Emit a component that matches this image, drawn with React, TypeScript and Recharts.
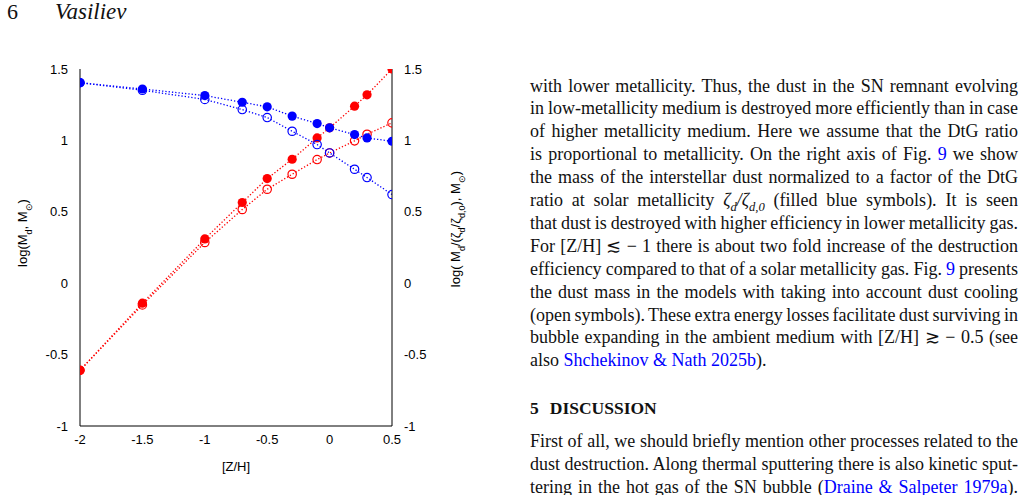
import { LineChart, Line, XAxis, YAxis } from 'recharts';

// [Z/H] values of the models
const zh = [-2, -1.5, -1, -0.7, -0.5, -0.3, -0.1, 0, 0.2, 0.3, 0.5];
// log M_d (left axis), red
const dustMass = [-0.61, -0.14, 0.31, 0.565, 0.733, 0.868, 1.017, 1.088, 1.24, 1.319, 1.5];
const dustMassCooling = [-0.61, -0.152, 0.285, 0.516, 0.658, 0.763, 0.866, 0.912, 0.997, 1.043, 1.123];
// log M_d/(zeta_d/zeta_d0) (right axis), blue
const dustNorm = [1.404, 1.36, 1.314, 1.267, 1.235, 1.17, 1.118, 1.088, 1.041, 1.017, 0.994];
const dustNormCooling = [1.404, 1.351, 1.287, 1.216, 1.16, 1.064, 0.971, 0.912, 0.798, 0.74, 0.621];

const xTicks = [-2, -1.5, -1, -0.5, 0, 0.5];
const yTicks = [-1, -0.5, 0, 0.5, 1, 1.5];

const data = zh.map((z, i) => ({
  z,
  mass: dustMass[i],
  massCool: dustMassCooling[i],
  norm: dustNorm[i],
  normCool: dustNormCooling[i],
}));

const RED = '#ff0000';
const BLUE = '#0000ff';
const SANS = '"Liberation Sans", Arial, sans-serif';
const SERIF = '"Liberation Serif", "Times New Roman", serif';
const LINK = '#0000ff';
const INK = '#111';

const tickStyle = { fill: '#000', fontSize: 13, fontFamily: SANS };

const filledDot = (color: string) => (p: any) => (
  <circle key={`f-${p.dataKey}-${p.index}`} cx={p.cx} cy={p.cy} r={4.6} fill={color} stroke="none" />
);
const openDot = (color: string) => (p: any) => (
  <circle key={`o-${p.dataKey}-${p.index}`} cx={p.cx} cy={p.cy} r={4.2} fill="none" stroke={color} strokeWidth={1.2} />
);

const subStyle = { fontSize: '0.7em', lineHeight: 0 };

const para1 = [
  <>with lower metallicity. Thus, the dust in the SN remnant evolving</>,
  <>in low-metallicity medium is destroyed more efficiently than in case</>,
  <>of higher metallicity medium. Here we assume that the DtG ratio</>,
  <>is proportional to metallicity. On the right axis of Fig. <span style={{ color: LINK }}>9</span> we show</>,
  <>the mass of the interstellar dust normalized to a factor of the DtG</>,
  <>
    ratio at solar metallicity <i>ζ<sub style={subStyle}>d</sub>/ζ<sub style={subStyle}>d,0</sub></i> (filled blue symbols). It is seen
  </>,
  <>that dust is destroyed with higher efficiency in lower metallicity gas.</>,
  <>For [Z/H] ≲ − 1 there is about two fold increase of the destruction</>,
  <>efficiency compared to that of a solar metallicity gas. Fig. <span style={{ color: LINK }}>9</span> presents</>,
  <>the dust mass in the models with taking into account dust cooling</>,
  <>(open symbols). These extra energy losses facilitate dust surviving in</>,
  <>bubble expanding in the ambient medium with [Z/H] ≳ − 0.5 (see</>,
  <>also <span style={{ color: LINK }}>Shchekinov &amp; Nath 2025b</span>).</>,
];

const para2 = [
  <>First of all, we should briefly mention other processes related to the</>,
  <>dust destruction. Along thermal sputtering there is also kinetic sput-</>,
  <>tering in the hot gas of the SN bubble (<span style={{ color: LINK }}>Draine &amp; Salpeter 1979a</span>).</>,
];

const TextLine = ({ y, last, children }: { y: number; last?: boolean; children: any }) => (
  <div
    style={{
      position: 'absolute',
      left: 530,
      top: y - 11.5,
      width: 488,
      height: 23,
      lineHeight: '23px',
      fontFamily: SERIF,
      fontSize: 18,
      color: INK,
      whiteSpace: 'nowrap',
      wordSpacing: last ? 0 : '-2px',
      textAlign: last ? 'left' : 'justify',
      textAlignLast: last ? 'left' : 'justify',
    }}
  >
    {children}
  </div>
);

export default function App() {
  return (
    <div style={{ position: 'absolute', left: 0, top: 0, width: 1025, height: 495, background: '#fff', overflow: 'hidden' }}>
      <div style={{ position: 'absolute', left: 7, top: 0, lineHeight: '24px', fontFamily: SERIF, fontSize: 22, color: INK }}>6</div>
      <div style={{ position: 'absolute', left: 55, top: 0, lineHeight: '24px', fontFamily: SERIF, fontSize: 23, fontStyle: 'italic', color: INK }}>
        Vasiliev
      </div>

      <div style={{ position: 'absolute', left: 0, top: 0 }}>
        <LineChart width={500} height={495} data={data} margin={{ top: 69, right: 48, bottom: 39, left: 0 }}>
          <XAxis
            xAxisId="x"
            dataKey="z"
            type="number"
            domain={[-2, 0.5]}
            ticks={xTicks}
            allowDataOverflow
            height={30}
            tickLine={false}
            tickSize={0}
            tickMargin={9}
            tick={tickStyle}
            axisLine={{ stroke: '#000', strokeWidth: 1 }}
          />
          <XAxis xAxisId="xin" dataKey="z" type="number" domain={[-2, 0.5]} ticks={xTicks} allowDataOverflow mirror height={0} tick={false} tickSize={5} tickLine={{ stroke: '#000' }} axisLine={false} />
          <XAxis xAxisId="xtop" orientation="top" dataKey="z" type="number" domain={[-2, 0.5]} ticks={xTicks} allowDataOverflow mirror height={0} tick={false} tickSize={5} tickLine={{ stroke: '#000' }} axisLine={{ stroke: '#000', strokeWidth: 1 }} />
          <YAxis
            yAxisId="left"
            type="number"
            domain={[-1, 1.5]}
            ticks={yTicks}
            allowDataOverflow
            width={80}
            tickLine={false}
            tickSize={0}
            tickMargin={12}
            tick={tickStyle}
            axisLine={{ stroke: '#000', strokeWidth: 1 }}
          />
          <YAxis yAxisId="leftin" type="number" domain={[-1, 1.5]} ticks={yTicks} allowDataOverflow mirror width={0} tick={false} tickSize={5} tickLine={{ stroke: '#000' }} axisLine={false} />
          <YAxis
            yAxisId="right"
            orientation="right"
            type="number"
            domain={[-1, 1.5]}
            ticks={yTicks}
            allowDataOverflow
            width={60}
            tickLine={false}
            tickSize={0}
            tickMargin={12}
            tick={tickStyle}
            axisLine={{ stroke: '#000', strokeWidth: 1 }}
          />
          <YAxis yAxisId="rightin" orientation="right" type="number" domain={[-1, 1.5]} ticks={yTicks} allowDataOverflow mirror width={0} tick={false} tickSize={5} tickLine={{ stroke: '#000' }} axisLine={false} />

          <Line xAxisId="x" yAxisId="left" dataKey="massCool" stroke={RED} strokeWidth={1.3} strokeDasharray="1.3 2" dot={openDot(RED)} activeDot={false} isAnimationActive={false} />
          <Line xAxisId="x" yAxisId="left" dataKey="mass" stroke={RED} strokeWidth={1.3} strokeDasharray="1.3 2" dot={filledDot(RED)} activeDot={false} isAnimationActive={false} />
          <Line xAxisId="x" yAxisId="right" dataKey="normCool" stroke={BLUE} strokeWidth={1.3} strokeDasharray="1.3 2" dot={openDot(BLUE)} activeDot={false} isAnimationActive={false} />
          <Line xAxisId="x" yAxisId="right" dataKey="norm" stroke={BLUE} strokeWidth={1.3} strokeDasharray="1.3 2" dot={filledDot(BLUE)} activeDot={false} isAnimationActive={false} />
        </LineChart>
      </div>

      <svg width={1025} height={495} style={{ position: 'absolute', left: 0, top: 0, pointerEvents: 'none' }}>
        <text x={236} y={471} textAnchor="middle" fontFamily={SANS} fontSize={13} fill="#000">[Z/H]</text>
        <text transform="translate(27,233) rotate(-90)" textAnchor="middle" fontFamily={SANS} fontSize={13} fill="#000">
          log(M<tspan baselineShift="sub" fontSize={9}>d</tspan>, M<tspan baselineShift="sub" fontSize={9}>⊙</tspan>)
        </text>
        <text transform="translate(460,229) rotate(-90)" textAnchor="middle" fontFamily={SANS} fontSize={13} fill="#000">
          log( M<tspan baselineShift="sub" fontSize={9}>d</tspan>/(ζ<tspan baselineShift="sub" fontSize={9}>d</tspan>/ζ<tspan baselineShift="sub" fontSize={9}>d,0</tspan>), M<tspan baselineShift="sub" fontSize={9}>⊙</tspan>)
        </text>
      </svg>

      {para1.map((c, i) => (
        <TextLine key={`p1-${i}`} y={86 + 22.9 * i} last={i === para1.length - 1}>
          {c}
        </TextLine>
      ))}
      <div style={{ position: 'absolute', left: 530, top: 396, lineHeight: '24px', fontFamily: SERIF, fontSize: 17.5, fontWeight: 'bold', color: INK, whiteSpace: 'nowrap' }}>
        5<span style={{ marginLeft: 11 }}>DISCUSSION</span>
      </div>
      {para2.map((c, i) => (
        <TextLine key={`p2-${i}`} y={441 + 23 * i}>
          {c}
        </TextLine>
      ))}
    </div>
  );
}
